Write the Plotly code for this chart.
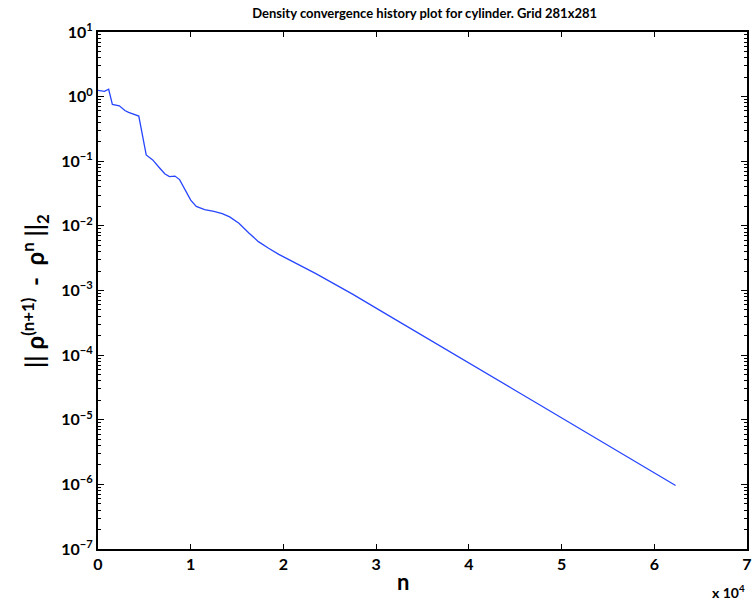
import plotly.graph_objects as go

# Iteration number and L2 norm of the density update
iterations = [0, 700, 1150, 1550, 2300, 2900, 3300, 4400, 5200, 5900, 6600, 7200,
              7700, 8300, 8800, 9500, 10000, 10600, 11500, 12500, 13400, 14200,
              15200, 16300, 17300, 18400, 19500, 23500, 27500, 31500, 35550,
              44700, 47300, 62300]
residual = [1.25, 1.21, 1.30, 0.76, 0.72, 0.61, 0.57, 0.50, 0.125, 0.105, 0.080, 0.064,
            0.058, 0.059, 0.052, 0.034, 0.025, 0.020, 0.0178, 0.0167, 0.0155, 0.0138,
            0.011, 0.0077, 0.0057, 0.0045, 0.00363, 0.00182, 0.00087, 0.000398, 0.000182,
            3.02e-5, 1.82e-5, 9.6e-7]

x_ticks = [0, 1, 2, 3, 4, 5, 6, 7]
y_exponents = [1, 0, -1, -2, -3, -4, -5, -6, -7]

title_text = "Density convergence history plot for cylinder. Grid 281x281"
x_label = "n"
y_label = "|| ρ<sup>(n+1)</sup>  -  ρ<sup>n</sup> ||<sub>2</sub>"

FONT = "Lato"

fig = go.Figure()
fig.add_trace(go.Scatter(
    x=[v / 1e4 for v in iterations],
    y=residual,
    mode="lines",
    line=dict(color="rgb(40,70,255)", width=1.3),
    showlegend=False,
))

axis_common = dict(
    showgrid=False, zeroline=False,
    showline=True, linecolor="black", linewidth=2,
    mirror="allticks", ticks="inside", tickcolor="black",
    tickfont=dict(family=FONT, size=16, color="black", weight="bold"),
)

fig.update_xaxes(
    range=[0, 7], tickvals=x_ticks, ticktext=[str(t) for t in x_ticks],
    ticklen=5, tickwidth=1, **axis_common,
)
fig.update_yaxes(
    type="log", range=[-7, 1],
    tickvals=[10 ** e for e in y_exponents],
    ticktext=["10<sup>%s</sup>" % str(e).replace("-", "−") for e in y_exponents],
    ticklen=6, tickwidth=1,
    minor=dict(ticks="inside", ticklen=3, tickcolor="black", dtick="D1", showgrid=False),
    **axis_common,
)

fig.update_layout(
    width=755, height=603,
    margin=dict(l=98, r=3, t=32, b=54),
    paper_bgcolor="white", plot_bgcolor="white",
    title=dict(text=title_text, x=0.5625, xanchor="center", y=0.978, yanchor="middle",
               font=dict(family=FONT, size=13, color="black", weight="bold")),
    annotations=[
        dict(text=x_label, x=0.47, y=0, yanchor="top", yshift=-17,
             xref="paper", yref="paper", showarrow=False,
             font=dict(family=FONT, size=22, color="black", weight="bold")),
        dict(text="x 10<sup>4</sup>", x=1.0, xanchor="right", y=0, yanchor="top",
             xref="paper", yref="paper", yshift=-31, showarrow=False,
             font=dict(family=FONT, size=14, color="black", weight="bold")),
        dict(text=y_label, x=-0.098, y=0.5, xref="paper", yref="paper", textangle=-90,
             showarrow=False, xanchor="center", yanchor="middle",
             font=dict(family=FONT, size=24, color="black", weight="bold")),
    ],
)

fig.write_html("out.html")
